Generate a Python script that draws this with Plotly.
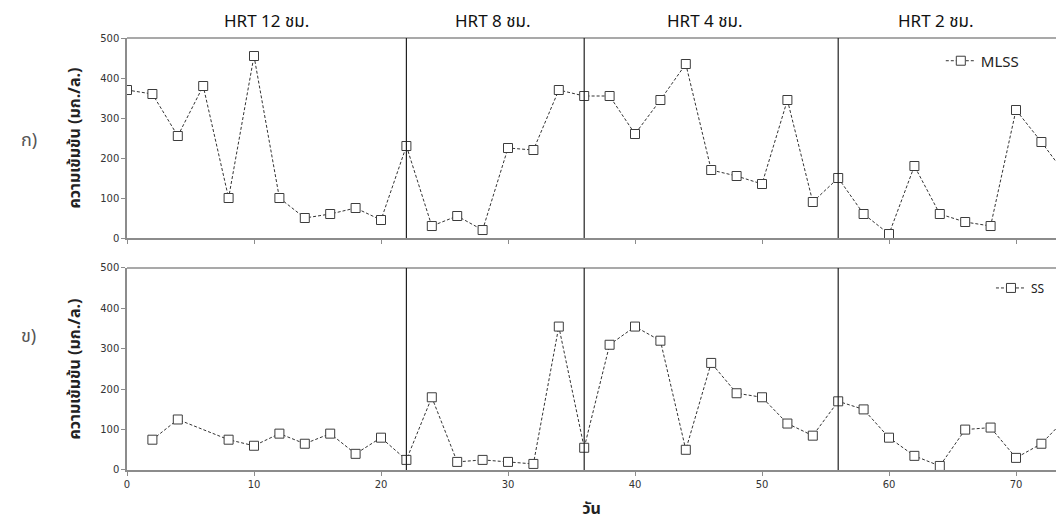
import plotly.graph_objects as go

# Sampling days (every 2 days)
days_mlss = [0, 2, 4, 6, 8, 10, 12, 14, 16, 18, 20, 22, 24, 26, 28, 30, 32, 34, 36,
             38, 40, 42, 44, 46, 48, 50, 52, 54, 56, 58, 60, 62, 64, 66, 68, 70, 72, 74]
mlss = [370, 360, 255, 380, 100, 455, 100, 50, 60, 75, 45, 230, 30, 55, 20, 225, 220, 370, 355,
        355, 260, 345, 435, 170, 155, 135, 345, 90, 150, 60, 10, 180, 60, 40, 30, 320, 240, 155]

days_ss = [2, 4, 8, 10, 12, 14, 16, 18, 20, 22, 24, 26, 28, 30, 32, 34, 36,
           38, 40, 42, 44, 46, 48, 50, 52, 54, 56, 58, 60, 62, 64, 66, 68, 70, 72, 74]
ss = [75, 125, 75, 60, 90, 65, 90, 40, 80, 25, 180, 20, 25, 20, 15, 355, 55,
      310, 355, 320, 50, 265, 190, 180, 115, 85, 170, 150, 80, 35, 10, 100, 105, 30, 65, 130]

# HRT phase boundaries (day) and phase labels
phase_bounds = [22, 36, 56]
phase_labels = ["HRT 12 ชม.", "HRT 8 ชม.", "HRT 4 ชม.", "HRT 2 ชม."]
phase_label_x = [11, 28.8, 45.5, 63.7]

y_ticks = [0, 100, 200, 300, 400, 500]
x_ticks = [0, 10, 20, 30, 40, 50, 60, 70]

X_RANGE = [0, 73.15]
AXIS_GRAY = "#8c8c8c"
TICK_FONT = dict(family="DejaVu Sans, Verdana, sans-serif", size=10, color="#333333")
THAI_FONT = "Tahoma, Noto Sans Thai, Noto Sans, DejaVu Sans, sans-serif"

fig = go.Figure()

line_style = dict(color="#333333", width=1, dash="3px,2px")
marker_style = dict(symbol="square", size=9, color="white",
                    line=dict(color="#3c3c3c", width=1))

fig.add_trace(go.Scatter(x=days_mlss, y=mlss, mode="lines+markers", name="MLSS",
                         line=line_style, marker=marker_style,
                         xaxis="x", yaxis="y", legend="legend", cliponaxis=True))
fig.add_trace(go.Scatter(x=days_ss, y=ss, mode="lines+markers", name="SS",
                         line=line_style, marker=marker_style,
                         xaxis="x2", yaxis="y2", legend="legend2", cliponaxis=True))

top_dom = [0.537, 1.0]
bot_dom = [0.0, 0.4676]

common_x = dict(range=X_RANGE, showgrid=False, zeroline=False, showline=True,
                linecolor=AXIS_GRAY, linewidth=1.5, ticks="outside", ticklen=4,
                tickcolor=AXIS_GRAY, tickvals=x_ticks, mirror=False)
common_y = dict(range=[0, 500], showgrid=False, zeroline=False, showline=True,
                linecolor=AXIS_GRAY, linewidth=1.5, ticks="outside", ticklen=4,
                tickcolor=AXIS_GRAY, tickvals=y_ticks, tickfont=TICK_FONT)

ytitle = dict(text="<b>ความเข้มข้น (มก./ล.)</b>",
              font=dict(family=THAI_FONT, size=16, color="#222222"), standoff=16)

fig.update_layout(
    width=1056, height=522,
    margin=dict(l=127, r=0, t=38, b=52),
    paper_bgcolor="white", plot_bgcolor="white",
    xaxis=dict(common_x, domain=[0, 1], anchor="y", showticklabels=False),
    yaxis=dict(common_y, domain=top_dom, anchor="x", title=ytitle),
    xaxis2=dict(common_x, domain=[0, 1], anchor="y2", tickfont=TICK_FONT,
                title=dict(text="<b>วัน</b>", standoff=14,
                           font=dict(family=THAI_FONT, size=16, color="#222222"))),
    yaxis2=dict(common_y, domain=bot_dom, anchor="x2", title=ytitle),
    legend=dict(x=0.876, y=0.985, xanchor="left", yanchor="top", bgcolor="rgba(0,0,0,0)",
                font=dict(family=THAI_FONT, size=15, color="#222222"),
                itemwidth=30, tracegroupgap=0),
    legend2=dict(x=0.93, y=0.455, xanchor="left", yanchor="top", bgcolor="rgba(0,0,0,0)",
                 font=dict(family=THAI_FONT, size=12, color="#222222"),
                 itemwidth=30, tracegroupgap=0),
    showlegend=True,
)

# Top border lines of each panel
for xr, yr in [("x", "y"), ("x2", "y2")]:
    fig.add_shape(type="line", xref=xr + " domain", yref=yr + " domain",
                  x0=0, x1=1, y0=1, y1=1, line=dict(color=AXIS_GRAY, width=1.5))

# Phase boundary lines in both panels
for xb in phase_bounds:
    for xr, yr in [("x", "y"), ("x2", "y2")]:
        fig.add_shape(type="line", xref=xr, yref=yr + " domain", x0=xb, x1=xb, y0=0, y1=1,
                      line=dict(color="#222222", width=1.2))

# Phase labels above the top panel
for lbl, lx in zip(phase_labels, phase_label_x):
    fig.add_annotation(x=lx, y=1.0, xref="x", yref="paper", yanchor="bottom",
                       yshift=1, text=lbl, showarrow=False,
                       font=dict(family=THAI_FONT, size=17, color="#111111"))

# Panel letters
fig.add_annotation(x=-0.116, y=(top_dom[0] + top_dom[1]) / 2 + 0.03, xref="paper", yref="paper",
                   text="ก)", showarrow=False,
                   font=dict(family=THAI_FONT, size=18, color="#555555"))
fig.add_annotation(x=-0.116, y=(bot_dom[0] + bot_dom[1]) / 2 + 0.04, xref="paper", yref="paper",
                   text="ข)", showarrow=False,
                   font=dict(family=THAI_FONT, size=18, color="#555555"))

fig.write_html("out.html")
